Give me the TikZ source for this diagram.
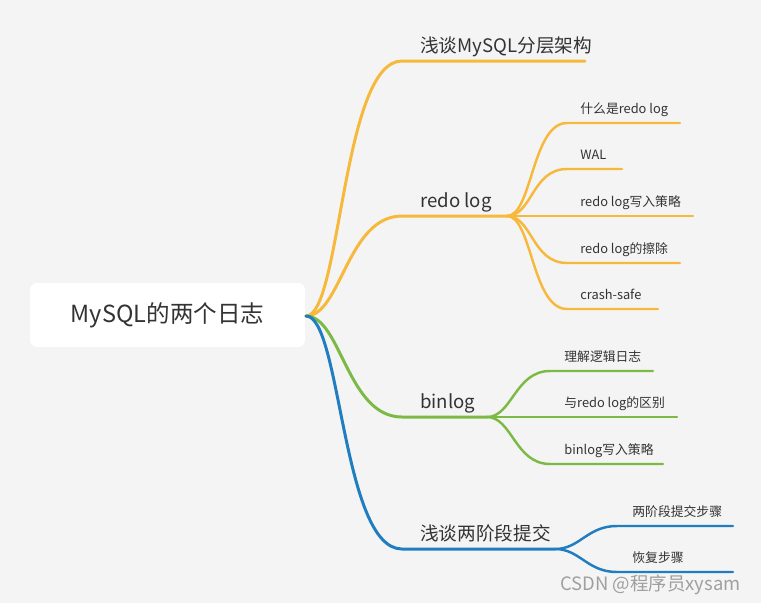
\documentclass[tikz,border=0pt]{standalone}
\usepackage{fontspec}
\setmainfont{Noto Sans CJK SC}
\usepackage{tikz}
\usetikzlibrary{positioning}

\definecolor{bggray}{HTML}{F4F4F4}
\definecolor{logyellow}{HTML}{F6B93B}
\definecolor{loggreen}{HTML}{7CBA45}
\definecolor{logblue}{HTML}{1F7DC0}
\definecolor{txtgray}{HTML}{333333}

\begin{document}
\begin{tikzpicture}[x=0.02cm, y=-0.02cm,
    rootbox/.style={fill=white, rounded corners=4pt, minimum width=5.5cm, minimum height=1.28cm,
        inner sep=0pt, text=txtgray, font=\fontsize{13.4}{16}\selectfont},
    topic/.style={anchor=base west, inner sep=0pt, text=txtgray, font=\fontsize{10.6}{13}\selectfont},
    subtopic/.style={anchor=base west, inner sep=0pt, text=txtgray, font=\fontsize{7.3}{9}\selectfont},
    mainline/.style={line width=1.7pt, line cap=round},
    subline/.style={line width=1.4pt, line cap=round}]

            \fill[bggray] (0,0) rectangle (761,603);
            \useasboundingbox (0,0) rectangle (761,603);

            \node[rootbox] (root) at (167.5,315) {MySQL的两个日志};
            \coordinate (o) at (306,316);

            % first level
            \coordinate (arch) at (402,61);    \coordinate (archend) at (585,61);
            \coordinate (redo) at (402,216);   \coordinate (redohub) at (507,216);
            \coordinate (bin) at (402,417);    \coordinate (binhub) at (487,417);
            \coordinate (twopc) at (402,549);  \coordinate (twopchub) at (555,549);

            \node[topic] (archtxt) at (420,52.5) {浅谈MySQL分层架构};
            \node[topic] (redotxt) at (420,207.5) {redo log};
            \node[topic] (bintxt) at (420,408.5) {binlog};
            \node[topic] (twopctxt) at (420,540.5) {浅谈两阶段提交};

            \draw[logyellow, mainline] (o) .. controls +(35,0) and +(-60,0) .. (arch) -- (archend);
            \draw[logyellow, mainline] (o) .. controls +(35,0) and +(-55,0) .. (redo) -- (redohub);
            \draw[loggreen, mainline] (o) .. controls +(35,0) and +(-55,0) .. (bin) -- (binhub);
            \draw[logblue, mainline] (o) .. controls +(35,0) and +(-60,0) .. (twopc) -- (twopchub);

            % redo log
            \coordinate (r1) at (567,123); \coordinate (r1e) at (680,123);
            \coordinate (r2) at (567,169); \coordinate (r2e) at (622,169);
            \coordinate (r3e) at (693,216);
            \coordinate (r4) at (567,263); \coordinate (r4e) at (680,263);
            \coordinate (r5) at (567,309); \coordinate (r5e) at (658,309);

            \node[subtopic] (r1txt) at (580,113.5) {什么是redo log};
            \node[subtopic] (r2txt) at (580,159.5) {WAL};
            \node[subtopic] (r3txt) at (580,206.5) {redo log写入策略};
            \node[subtopic] (r4txt) at (580,253.5) {redo log的擦除};
            \node[subtopic] (r5txt) at (580,299.5) {crash-safe};

            \draw[logyellow, subline] (redohub) .. controls +(25,0) and +(-35,0) .. (r1) -- (r1e);
            \draw[logyellow, subline] (redohub) .. controls +(25,0) and +(-35,0) .. (r2) -- (r2e);
            \draw[logyellow, subline] (redohub) -- (r3e);
            \draw[logyellow, subline] (redohub) .. controls +(25,0) and +(-35,0) .. (r4) -- (r4e);
            \draw[logyellow, subline] (redohub) .. controls +(25,0) and +(-35,0) .. (r5) -- (r5e);

            % binlog
            \coordinate (b1) at (550,371); \coordinate (b1e) at (653,371);
            \coordinate (b2e) at (677,417);
            \coordinate (b3) at (550,464); \coordinate (b3e) at (663,464);

            \node[subtopic] (b1txt) at (564,361.5) {理解逻辑日志};
            \node[subtopic] (b2txt) at (564,407.5) {与redo log的区别};
            \node[subtopic] (b3txt) at (564,454.5) {binlog写入策略};

            \draw[loggreen, subline] (binhub) .. controls +(25,0) and +(-35,0) .. (b1) -- (b1e);
            \draw[loggreen, subline] (binhub) -- (b2e);
            \draw[loggreen, subline] (binhub) .. controls +(25,0) and +(-35,0) .. (b3) -- (b3e);

            % two-phase commit
            \coordinate (c1) at (617,526); \coordinate (c1e) at (733,526);
            \coordinate (c2) at (617,572); \coordinate (c2e) at (733,572);

            \node[subtopic] (c1txt) at (632,516.5) {两阶段提交步骤};
            \node[subtopic] (c2txt) at (632,562.5) {恢复步骤};

            \draw[logblue, subline] (twopchub) .. controls +(25,0) and +(-30,0) .. (c1) -- (c1e);
            \draw[logblue, subline] (twopchub) .. controls +(25,0) and +(-30,0) .. (c2) -- (c2e);

            \node[anchor=base west, inner sep=0pt, text=gray!75, font=\fontsize{10.5}{12}\selectfont] (mark) at (560,590) {CSDN @程序员xysam};
\end{tikzpicture}
\end{document}
